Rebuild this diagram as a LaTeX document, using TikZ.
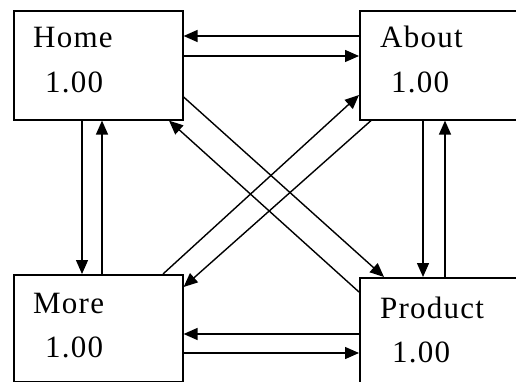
\documentclass[tikz,border=0pt]{standalone}
\usepackage{fontspec}
\setmainfont[LetterSpace=4]{Liberation Serif}
\usetikzlibrary{arrows.meta}
\begin{document}
\begin{tikzpicture}[x=1pt,y=-1pt,
  pagebox/.style={draw,line width=1.6pt,minimum width=169pt,inner sep=0pt,anchor=north west},
  lbl/.style={inner sep=0pt,anchor=base west,font=\fontsize{31}{31}\selectfont},
  arr/.style={line width=1.4pt,-{Triangle[length=14pt,width=12pt]}}]
\useasboundingbox (0,0) rectangle (516,382);
\clip (0,0) rectangle (516,382);
\node[pagebox,minimum height=109pt] (home) at (13,10) {};
\node[pagebox,minimum height=109pt] (about) at (359,10) {};
\node[pagebox,minimum height=107pt] (more) at (13,274) {};
\node[pagebox,minimum height=107pt] (product) at (359,277) {};
\node[lbl] (homet) at (33,48) {Home};
\node[lbl] (homev) at (45,93) {1.00};
\node[lbl] (aboutt) at (380,48) {About};
\node[lbl] (aboutv) at (391,93) {1.00};
\node[lbl] (moret) at (33,313) {More};
\node[lbl] (morev) at (45,357) {1.00};
\node[lbl] (productt) at (380,318) {Product};
\node[lbl] (productv) at (392,362) {1.00};
% Home <-> About
\draw[arr] (about.west |- 0,36) -- (home.east |- 0,36);
\draw[arr] (home.east |- 0,56) -- (about.west |- 0,56);
% Home <-> More
\draw[arr] (home.south -| 82,0) -- (more.north -| 82,0);
\draw[arr] (more.north -| 102,0) -- (home.south -| 102,0);
% About <-> Product
\draw[arr] (about.south -| 423,0) -- (product.north -| 423,0);
\draw[arr] (product.north -| 445,0) -- (about.south -| 445,0);
% More <-> Product
\draw[arr] (product.west |- 0,334) -- (more.east |- 0,334);
\draw[arr] (more.east |- 0,353) -- (product.west |- 0,353);
% diagonals
\draw[arr] (home.east |- 0,97) -- (product.north -| 384,0);
\draw[arr] (product.west |- 0,292) -- (home.south -| 169,0);
\draw[arr] (about.south -| 371,0) -- (more.east |- 0,287);
\draw[arr] (more.north -| 163,0) -- (about.west |- 0,95);
\end{tikzpicture}
\end{document}
